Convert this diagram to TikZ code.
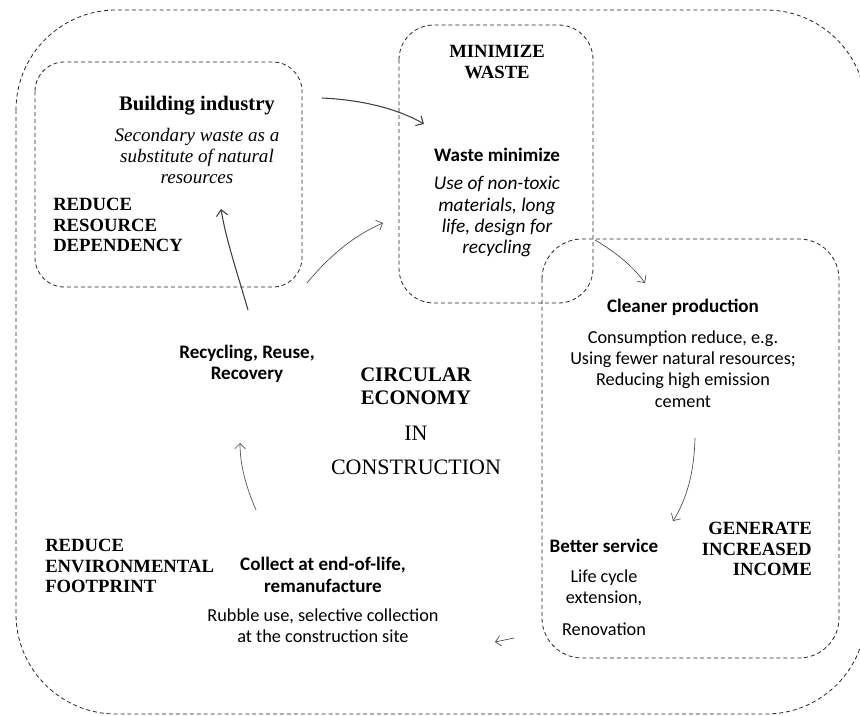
\documentclass[tikz,border=0pt]{standalone}
\usepackage{fontspec}
\setmainfont{Liberation Serif}
\newfontfamily\calfont{Carlito}
\usetikzlibrary{arrows.meta}
\tikzset{
  dbox/.style={draw=black!85, line width=0.6pt, dash pattern=on 3pt off 2.2pt},
  arr/.style={draw=black!70, line width=0.5pt, -{Straight Barb[length=4pt,width=8pt]}},
  arrb/.style={draw=black!75, line width=0.8pt, -{Straight Barb[length=4.5pt,width=8.5pt]}},
  sertitle/.style={font=\fontsize{14}{15.5}\selectfont\bfseries, inner sep=0pt},
  serit/.style={font=\fontsize{14.3}{15.8}\selectfont\itshape, align=center, inner sep=0pt},
  sansb/.style={font=\calfont\fontsize{14.3}{16}\selectfont\bfseries, align=center, inner sep=0pt},
  sansr/.style={font=\calfont\fontsize{13.7}{16}\selectfont, align=center, inner sep=0pt},
  sansi/.style={font=\calfont\fontsize{14.5}{16}\selectfont\itshape, align=center, inner sep=0pt},
}
\begin{document}
\begin{tikzpicture}[x=0.75pt,y=-0.75pt]
\useasboundingbox (0,0) rectangle (860,716);
% boxes
\draw[dbox, rounded corners=75pt] (16,10) rectangle (866,714);
\draw[dbox, rounded corners=22pt] (35,62) rectangle (302,287);
\draw[dbox, rounded corners=26pt] (399,25) rectangle (593,303);
\draw[dbox, rounded corners=30pt] (542,239) rectangle (839,658);
% top-left box texts
\node[sertitle, font=\fontsize{15.5}{15.5}\selectfont\bfseries] (bi) at (197,106) {Building industry};
\node[serit] (sw) at (197,156) {Secondary waste as a\\substitute of natural\\resources};
\node[sertitle, align=left, anchor=north west] (rrd) at (53,198) {REDUCE\\RESOURCE\\DEPENDENCY};
% middle box
\node[sertitle, align=center] (mw) at (497,62) {MINIMIZE\\WASTE};
\node[sansb] (wm) at (497,155) {Waste minimize};
\node[sansi] (wmt) at (497,217) {Use of non-toxic\\materials, long\\life, design for\\recycling};
% right box
\node[sansb] (cp) at (683,307) {Cleaner production};
\node[sansr] (cpt) at (683,369) {Consumption reduce, e.g.\\Using fewer natural resources;\\Reducing high emission\\cement};
\node[sansb] (bs) at (604,546) {Better service};
\node[sansr] (bst) at (604,588) {Life cycle\\extension,};
\node[sansr] (ren) at (604,629) {Renovation};
\node[sertitle, align=right, anchor=north east] (gii) at (812,522) {GENERATE\\INCREASED\\INCOME};
% center
\node[sertitle, align=center, font=\fontsize{15.5}{17}\selectfont\bfseries] (ce) at (416,386) {CIRCULAR\\ECONOMY};
\node[inner sep=0pt, font=\fontsize{16.5}{17}\selectfont] (in) at (416,433) {IN};
\node[inner sep=0pt, font=\fontsize{16.5}{17}\selectfont] (con) at (416,467) {CONSTRUCTION};
\node[sansb] (rrr) at (247,364) {Recycling, Reuse,\\Recovery};
% bottom left
\node[sertitle, align=left, anchor=north west] (ref) at (45,539) {REDUCE\\ENVIRONMENTAL\\FOOTPRINT};
\node[sansb] (cel) at (323,575) {Collect at end-of-life,\\remanufacture};
\node[sansr] (rub) at (323,626) {Rubble use, selective collection\\at the construction site};
% arrow endpoints
\coordinate (a1s) at (322,98);  \coordinate (a1e) at (424,124);
\coordinate (a2s) at (248,310); \coordinate (a2e) at (221,209);
\coordinate (a3s) at (307,283); \coordinate (a3e) at (383,223);
\coordinate (a4s) at (595,240); \coordinate (a4e) at (645,283);
\coordinate (a5s) at (695,438); \coordinate (a5e) at (673,521);
\coordinate (a6s) at (514,638); \coordinate (a6e) at (495,642);
\coordinate (a7s) at (256,510); \coordinate (a7e) at (240,443);
\draw[arrb] (a1s) .. controls (365,100) and (400,110) .. (a1e);
\draw[arrb] (a2s) .. controls (238,275) and (226,240) .. (a2e);
\draw[arr] (a3s) .. controls (330,255) and (355,235) .. (a3e);
\draw[arr] (a4s) .. controls (615,252) and (632,265) .. (a4e);
\draw[arr] (a5s) .. controls (694,475) and (686,500) .. (a5e);
\draw[arr] (a6s) -- (a6e);
\draw[arr] (a7s) .. controls (246,487) and (240,465) .. (a7e);
\end{tikzpicture}
\end{document}
